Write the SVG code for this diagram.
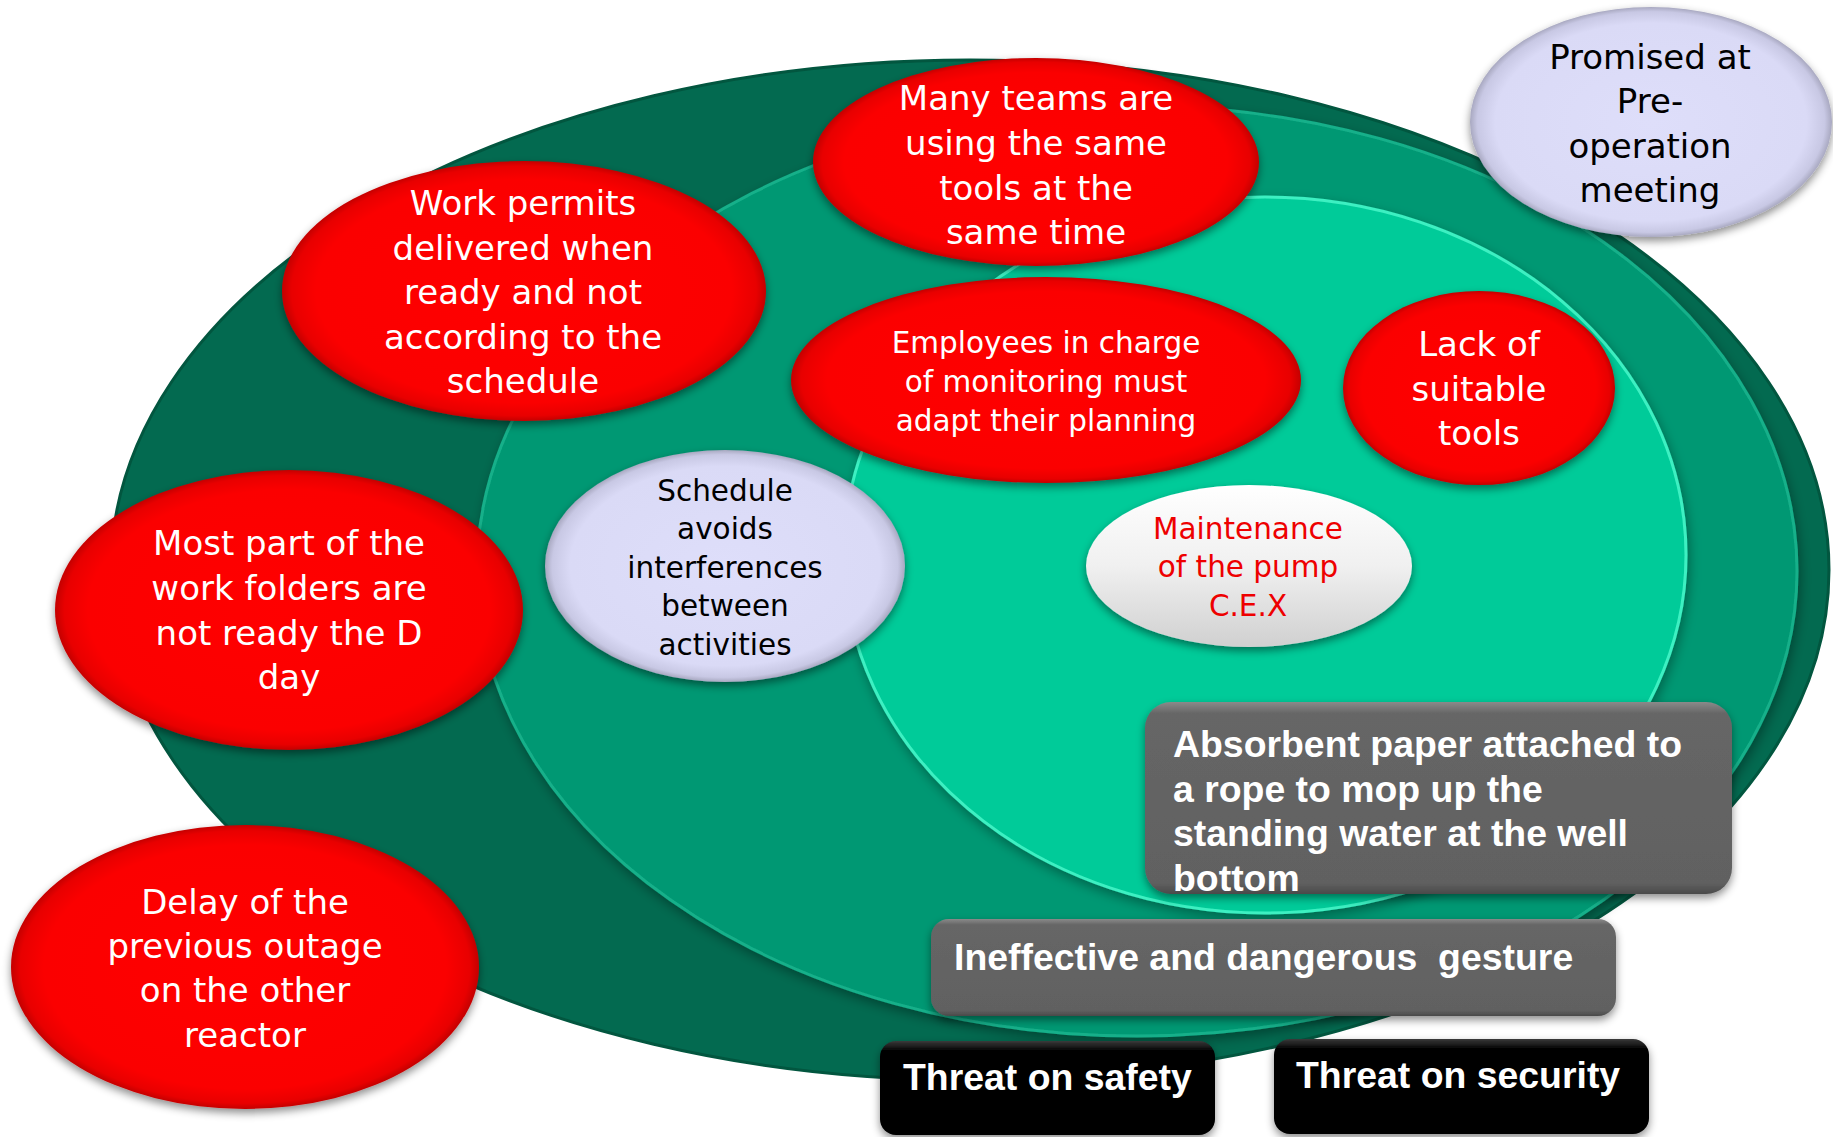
<svg xmlns="http://www.w3.org/2000/svg" width="1833" height="1137" viewBox="0 0 1833 1137">
<style>
.wt{font-family:"DejaVu Sans",Verdana,sans-serif;font-size:34px;fill:#ffffff;text-anchor:middle}
.bt{font-family:"DejaVu Sans",Verdana,sans-serif;font-size:34px;fill:#000000;text-anchor:middle}
.sm{font-size:29.5px}
.rt{font-family:"DejaVu Sans",Verdana,sans-serif;font-size:29.5px;fill:#ee0000;text-anchor:middle}
.bx{font-family:"Liberation Sans",Arial,sans-serif;font-size:37.4px;font-weight:bold;fill:#ffffff}
.red{fill:url(#gRed);filter:url(#sh)}
.lav{fill:url(#gLav);filter:url(#sh)}
</style>
<defs>
<filter id="sh" x="-10%" y="-10%" width="120%" height="130%">
<feDropShadow dx="0" dy="4" stdDeviation="4" flood-color="#000" flood-opacity="0.45"/>
</filter>
<filter id="shg" x="-10%" y="-10%" width="120%" height="130%">
<feDropShadow dx="2" dy="5" stdDeviation="6" flood-color="#000" flood-opacity="0.35"/>
</filter>
<radialGradient id="gRed" cx="50%" cy="50%" r="50%">
<stop offset="0" stop-color="#ff0505"/>
<stop offset="0.86" stop-color="#fb0404"/>
<stop offset="0.96" stop-color="#e80202"/>
<stop offset="1" stop-color="#c40000"/>
</radialGradient>
<radialGradient id="gLav" cx="50%" cy="50%" r="50%">
<stop offset="0" stop-color="#dedefa"/>
<stop offset="0.86" stop-color="#dadaf6"/>
<stop offset="0.96" stop-color="#c8c8e4"/>
<stop offset="1" stop-color="#a8a8c0"/>
</radialGradient>
<linearGradient id="gWh" x1="0" y1="0" x2="0" y2="1">
<stop offset="0" stop-color="#ffffff"/>
<stop offset="0.5" stop-color="#f0f0f0"/>
<stop offset="1" stop-color="#d0d0d0"/>
</linearGradient>
<linearGradient id="gGray" x1="0" y1="0" x2="0" y2="1">
<stop offset="0" stop-color="#8a8a8a"/>
<stop offset="0.06" stop-color="#666666"/>
<stop offset="0.94" stop-color="#616161"/>
<stop offset="1" stop-color="#4a4a4a"/>
</linearGradient>
<linearGradient id="gBlk" x1="0" y1="0" x2="0" y2="1">
<stop offset="0" stop-color="#3a3a3a"/>
<stop offset="0.1" stop-color="#050505"/>
<stop offset="1" stop-color="#000000"/>
</linearGradient>
</defs>

<g id="rings">
<ellipse cx="970" cy="570" rx="859" ry="510" fill="#036a50" stroke="#02563f" stroke-width="3"/>
<ellipse cx="1137" cy="571" rx="660" ry="465" fill="#029873" stroke="#16b08a" stroke-width="3" filter="url(#shg)"/>
<ellipse cx="1265" cy="555" rx="421" ry="358" fill="#01cb99" stroke="#3ef0c2" stroke-width="3" filter="url(#shg)"/>
</g>

<g id="connectors"></g>

<g id="n-many">
<ellipse class="red" cx="1036" cy="162" rx="223" ry="104"/>
<text class="wt" x="1036" y="110">Many teams are</text>
<text class="wt" x="1036" y="155">using the same</text>
<text class="wt" x="1036" y="200">tools at the</text>
<text class="wt" x="1036" y="244">same time</text>
</g>

<g id="n-work">
<ellipse class="red" cx="524" cy="291" rx="242" ry="130"/>
<text class="wt" x="523" y="215">Work permits</text>
<text class="wt" x="523" y="260">delivered when</text>
<text class="wt" x="523" y="304">ready and not</text>
<text class="wt" x="523" y="349">according to the</text>
<text class="wt" x="523" y="393">schedule</text>
</g>

<g id="n-employees">
<ellipse class="red" cx="1046" cy="380" rx="255" ry="103"/>
<text class="wt sm" x="1046" y="353">Employees in charge</text>
<text class="wt sm" x="1046" y="392">of monitoring must</text>
<text class="wt sm" x="1046" y="431">adapt their planning</text>
</g>

<g id="n-lack">
<ellipse class="red" cx="1479" cy="388" rx="136" ry="97"/>
<text class="wt" x="1479" y="356">Lack of</text>
<text class="wt" x="1479" y="401">suitable</text>
<text class="wt" x="1479" y="445">tools</text>
</g>

<g id="n-promised">
<ellipse class="lav" cx="1651" cy="122" rx="181" ry="115"/>
<text class="bt" x="1650" y="69">Promised at</text>
<text class="bt" x="1650" y="113">Pre-</text>
<text class="bt" x="1650" y="158">operation</text>
<text class="bt" x="1650" y="202">meeting</text>
</g>

<g id="n-most">
<ellipse class="red" cx="289" cy="610" rx="234" ry="140"/>
<text class="wt" x="289" y="555">Most part of the</text>
<text class="wt" x="289" y="600">work folders are</text>
<text class="wt" x="289" y="645">not ready the D</text>
<text class="wt" x="289" y="689">day</text>
</g>

<g id="n-schedule">
<ellipse class="lav" cx="725" cy="566" rx="180" ry="116"/>
<text class="bt sm" x="725" y="501">Schedule</text>
<text class="bt sm" x="725" y="539">avoids</text>
<text class="bt sm" x="725" y="578">interferences</text>
<text class="bt sm" x="725" y="616">between</text>
<text class="bt sm" x="725" y="655">activities</text>
</g>

<g id="n-maintenance">
<ellipse cx="1249" cy="566" rx="163" ry="81" fill="url(#gWh)" filter="url(#sh)"/>
<text class="rt" x="1248" y="539">Maintenance</text>
<text class="rt" x="1248" y="577">of the pump</text>
<text class="rt" x="1248" y="616">C.E.X</text>
</g>

<g id="n-delay">
<ellipse class="red" cx="245" cy="967" rx="234" ry="142"/>
<text class="wt" x="245" y="914">Delay of the</text>
<text class="wt" x="245" y="958">previous outage</text>
<text class="wt" x="245" y="1002">on the other</text>
<text class="wt" x="245" y="1047">reactor</text>
</g>

<g id="n-absorbent">
<rect x="1145" y="702" width="587" height="192" rx="26" fill="url(#gGray)" filter="url(#sh)"/>
<text class="bx" x="1173" y="757">Absorbent paper attached to</text>
<text class="bx" x="1173" y="802">a rope to mop up the</text>
<text class="bx" x="1173" y="846">standing water at the well</text>
<text class="bx" x="1173" y="891">bottom</text>
</g>

<g id="n-ineffective">
<rect x="931" y="919" width="685" height="97" rx="18" fill="url(#gGray)" filter="url(#sh)"/>
<text class="bx" x="954" y="970" xml:space="preserve">Ineffective and dangerous  gesture</text>
</g>

<g id="n-safety">
<rect x="880" y="1041" width="335" height="94" rx="16" fill="url(#gBlk)" filter="url(#sh)"/>
<text class="bx" x="903" y="1090">Threat on safety</text>
</g>

<g id="n-security">
<rect x="1274" y="1039" width="375" height="95" rx="16" fill="url(#gBlk)" filter="url(#sh)"/>
<text class="bx" x="1296" y="1088">Threat on security</text>
</g>
</svg>
